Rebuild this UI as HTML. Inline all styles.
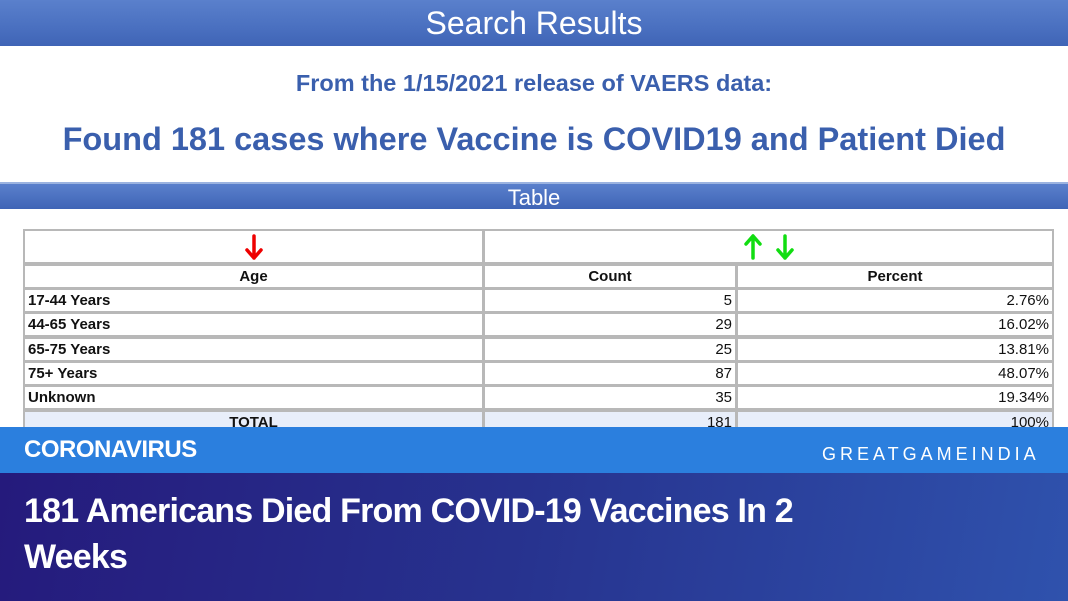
<!DOCTYPE html>
<html><head><meta charset="utf-8"><style>
*{margin:0;padding:0;box-sizing:border-box}
body{width:1068px;height:601px;overflow:hidden;background:#fff;font-family:"Liberation Sans",sans-serif;position:relative}
.abs{position:absolute}
#top{left:0;top:0;width:1068px;height:46px;background:linear-gradient(#5a80cc,#4a70c0 60%,#3f64b6);color:#fff;font-size:32px;text-align:center;line-height:46px}
#sub{left:0;top:70px;width:1068px;text-align:center;color:#3a5fad;font-weight:bold;font-size:23.5px}
#found{left:0;top:121px;width:1068px;text-align:center;color:#3a5fad;font-weight:bold;font-size:32.5px}
#tbar{left:0;top:182px;width:1068px;height:27px;background:linear-gradient(#5a80cc,#3f64b6);color:#fff;font-size:22px;text-align:center;line-height:27px;border-top:2px solid #9bb3e0}
.cell{position:absolute;border:2px solid #b8b8b8;background:#fff;font-size:15px;color:#111;line-height:18px;padding:0 3px;white-space:nowrap;overflow:hidden}
#band{left:0;top:427px;width:1068px;height:46px;background:#2b7fde}
#cat{left:24px;top:436px;color:#fff;font-weight:bold;font-size:24px;letter-spacing:-0.5px}
#brand{left:822px;top:444px;color:#fff;font-size:18px;letter-spacing:4px}
#bottom{left:0;top:473px;width:1068px;height:128px;background:linear-gradient(100deg,#251a7c 0%,#27338f 50%,#2f52ad 100%)}
#head{left:24px;top:488px;color:#fff;font-weight:bold;font-size:34px;line-height:46px;letter-spacing:-0.8px;width:800px}
</style></head><body>
<div id="top" class="abs">Search Results</div>
<div id="sub" class="abs">From the 1/15/2021 release of VAERS data:</div>
<div id="found" class="abs">Found 181 cases where Vaccine is COVID19 and Patient Died</div>
<div id="tbar" class="abs">Table</div>
<div id="table"></div>
<div id="band" class="abs"></div>
<div id="cat" class="abs">CORONAVIRUS</div>
<div id="brand" class="abs">GREATGAMEINDIA</div>
<div id="bottom" class="abs"></div>
<div id="head" class="abs">181 Americans Died From COVID-19 Vaccines In 2 Weeks</div>
<script>
const ages=["17-44 Years","44-65 Years","65-75 Years","75+ Years","Unknown"];
const counts=[5,29,25,87,35];
const percents=["2.76%","16.02%","13.81%","48.07%","19.34%"];
const total=181;
const t=document.getElementById('table');
function cell(x,y,w,h,txt,align,bold,bg){
  const d=document.createElement('div');
  d.className='cell';
  d.style.left=x+'px';d.style.top=y+'px';d.style.width=w+'px';d.style.height=h+'px';
  d.style.textAlign=align;d.style.lineHeight=(h-4)+'px';
  if(bold)d.style.fontWeight='bold';
  if(bg)d.style.background=bg;
  d.innerHTML=txt;
  
  
  t.appendChild(d);return d;
}
function arrow(color,up){
  const p=up?'M10 2 L3 10 M10 2 L17 10 M10 2 L10 24':'M10 24 L3 16 M10 24 L17 16 M10 24 L10 2';
  return '<svg width="20" height="26" style="vertical-align:middle"><path d="'+p+'" stroke="'+color+'" stroke-width="3.5" fill="none" stroke-linecap="round"/></svg>';
}
const X=[23,483,736],W=[461,254,318];
const a1=cell(X[0],229,W[0],35,arrow('#e00',false),'center');


const a2=cell(X[1],229,W[1]+W[2]-1,35,arrow('#1d1',true)+'<span style="display:inline-block;width:12px"></span>'+arrow('#1d1',false),'center');


const hdr=["Age","Count","Percent"];
for(let i=0;i<3;i++){const c=cell(X[i],264,W[i],25,hdr[i],'center',true);}
for(let r=0;r<ages.length;r++){
  const y=288+r*24.3;
  const c0=cell(X[0],y,W[0],25,ages[r],'left',true);
  const c1=cell(X[1],y,W[1],25,String(counts[r]),'right');
  const c2=cell(X[2],y,W[2],25,percents[r],'right');
}
const ty=288+5*24.3;
const t0=cell(X[0],ty,W[0],26,'TOTAL','center',true,'#e8eefa');
const t1=cell(X[1],ty,W[1],26,String(total),'right',false,'#e8eefa');
const t2=cell(X[2],ty,W[2],26,'100%','right',false,'#e8eefa');
</script>
</body></html>
